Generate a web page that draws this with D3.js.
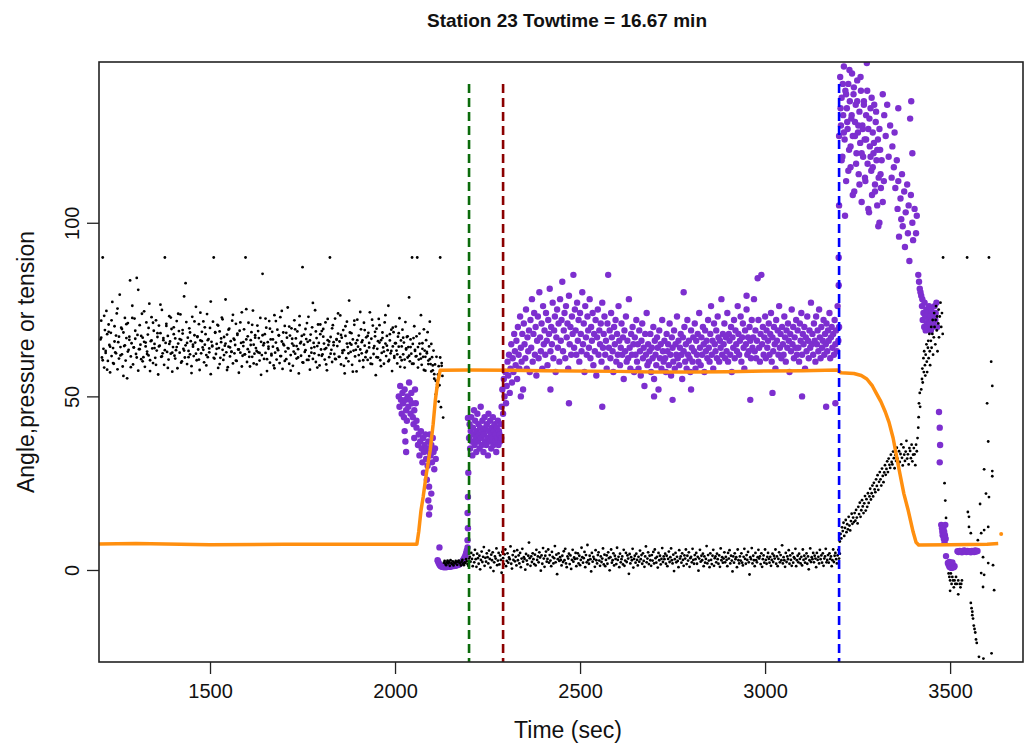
<!DOCTYPE html>
<html><head><meta charset="utf-8">
<script src="https://cdn.jsdelivr.net/npm/d3@7"></script>
<style>body{margin:0;background:#fff}svg{display:block;font-family:"Liberation Sans",Arial,sans-serif}</style>
</head><body><svg id="c" width="1025" height="743"></svg>
<script>
// ---------- DATA ----------
const titleText = "Station 23 Towtime = 16.67 min";
const xLabel = "Time (sec)";
const yLabel = "Angle,pressure or tension";
const xTicks = [1500, 2000, 2500, 3000, 3500];
const yTicks = [0, 50, 100];
const markerTimes = [2200, 2292, 3200];
const markerTop = 140;

// Black series (tension) – regular sampling segments: start time, step (sec), values
const blackAStart = 1204, blackAStep = 2;
const blackA = [
66.4,71.8,61.2,90,63.7,58.3,69.1,62.5,74.6,67.9,60.2,70.7,64.8,56.9,68.3,61.6,77.2,63.9,59.4,70.2,
62.7,67.5,73.9,57.8,65.6,60.9,79.3,64.2,69.8,62.1,58.6,68.4,64.5,72.6,60.3,66.8,55.2,71.1,63.4,67.2,
83.4,61.5,65.3,76.1,59.2,64.1,72.4,66.6,62.2,84.1,67.7,57.4,63.6,70.5,64.9,60.7,73.8,66.9,61.3,65.7,
58.5,64.4,71.3,62.9,67.8,61.8,76.7,60.4,65.9,72.8,63.8,59.6,68.9,65.1,61.1,71.9,63.2,67.1,56.3,70.4,
64.6,68.2,61.4,74.9,62.4,66.2,59.1,90,65.4,70.9,62.8,67.4,60.6,73.1,65.8,62.3,69.4,57.1,64.2,69.9,
61.7,66.7,63.3,71.7,58.1,65.2,68.8,62.6,73.6,66.3,60.1,68.1,63.7,78.8,61.2,64.7,71.4,59.3,66.9,63.1,
69.6,62.1,65.9,58.7,72.9,64.3,61.6,67.6,65.5,75.8,60.4,67.3,63.5,70.8,57.6,66.1,62.4,68.6,64.1,71.6,
59.8,64.9,67.9,61.9,73.7,61.3,66.5,63.8,69.7,56.4,65.7,64.4,71.5,90,60.9,68.3,62.2,65.1,70.6,58.2,
63.9,68.7,61.1,65.6,72.7,63.4,60.5,67.1,64.6,77.9,62.7,67.8,58.4,64.3,69.5,61.5,65.9,62.9,71.8,59.5,
66.6,62.4,64.8,70.9,60.2,67.7,63.5,56.8,68.9,62.6,65.4,74.2,61.7,64.5,69.3,62.1,90,66.4,59.9,63.6,
71.2,62.8,58.6,66.2,68.5,61.4,74.7,64.9,62.3,67.6,63.9,59.2,70.4,62.7,66.8,60.3,72.6,65.7,61.9,85.3,
64.7,60.8,67.9,62.5,69.8,57.3,65.6,63.7,71.7,59.7,66.4,61.8,68.6,64.3,58.9,73.4,62.6,65.5,60.6,69.2,
63.3,67.6,59.6,72.8,61.6,65.8,57.9,68.4,64.7,70.3,62.9,60.7,66.9,75.6,63.8,59.4,67.5,61.9,69.6,65.2,
58.8,64.6,71.9,62.3,66.7,60.9,68.7,63.6,56.6,70.5,65.3,61.7,67.4,87.2,59.7,64.9,62.8,69.4,66.5,60.5,
65.7,72.9,61.6,57.7,67.8,63.9,69.9,60.8,65.4,62.4,74.8,59.9,66.8,64.5,70.7,61.9,58.9,67.9,63.5,68.8,
62.1,69.4,65.2,60.6,71.3,63.9,57.5,66.2,64.8,61.3,90,67.1,63.4,59.9,70.5,65.6,62.2,72.4,60.7,66.3,
64.5,68.1,61.4,65.8,73.3,59.2,66.9,62.5,69.1,63.3,56.6,67.4,61.0,71.5,64.2,60.1,77.6,65.3,62.8,68.2,
59.1,66.4,63.2,70.6,61.5,65.3,57.2,72.1,64.3,67.5,60.2,63.5,69.3,62.4,66.1,58.4,71.2,64.6,61.3,67.0,
63.1,60.5,68.3,65.4,74.2,61.1,66.6,59.3,70.4,62.2,64.5,67.3,56.1,69.5,63.7,61.2,72.3,65.5,60.4,66.2,
62.5,68.4,64.1,59.4,71.3,65.2,61.6,67.4,63.3,76.1,60.5,66.1,62.4,69.2,57.3,64.4,68.5,61.1,65.3,70.1,
63.2,59.5,67.2,64.3,72.5,61.3,66.1,60.4,69.2,62.1,65.5,58.3,71.4,63.5,67.1,61.2,64.2,78.5,60.1,66.4,
62.3,90,65.1,59.4,70.2,63.4,61.5,67.3,90,64.2,60.6,68.1,62.2,73.4,59.1,65.3,61.4,69.3,63.2,57.4,
66.2,62.4,68.5,60.3,64.4,71.5,59.3,65.1,61.3,57.5,63.2,56.4,59.2,54.5,61.4,52.6,56.3,48.5,53.2,90,
46.9,58.8,55.9,43.9];

const blackA2Start = 1206, blackA2Step = 4;
const blackA2 = [
66.9,60.4,73.2,63.1,57.7,68.6,64.3,71.9,59.6,65.8,62.4,75.3,67.2,61.8,69.4,55.9,64.7,70.8,62.9,66.3,
58.4,72.6,64.1,68.9,61.2,80.7,63.6,67.4,60.1,74.5,65.5,62.2,69.7,57.3,66.1,71.2,63.9,59.1,68.2,64.4,
76.4,61.5,66.8,63.3,70.3,58.2,65.1,72.7,62.6,67.9,60.9,64.2,73.8,66.5,59.7,69.1,63.2,82.6,65.4,61.3,
68.4,56.7,64.9,71.6,62.3,67.1,60.6,74.1,65.9,63.4,69.9,58.9,66.2,62.7,77.3,64.6,61.1,68.5,63.7,70.4,
59.3,66.7,72.2,61.9,65.2,57.6,69.2,64.1,62.8,73.5,66.3,60.3,68.1,63.5,71.3,58.6,65.6,62.1,75.1,67.3,
61.4,64.8,70.6,59.5,66.9,63.1,68.8,62.5,56.2,67.6,65.3,72.4,60.7,64.3,69.5,62.2,66.4,58.1,71.7,63.8,
67.5,61.6,74.6,65.1,60.2,68.3,63.9,70.1,57.4,66.6,62.9,69.3,64.5,61.2,73.1,65.7,59.8,67.8,63.3,71.1,
60.5,66.1,62.6,76.9,64.2,68.7,58.3,65.4,70.7,61.7,67.2,63.6,59.2,72.3,65.8,62.3,69.6,64.7,60.8,66.5,
73.9,61.4,67.7,63.2,58.8,70.2,65.2,62.4,68.4,64.9,57.1,71.8,63.4,66.2,61.9,74.3,65.6,60.4,69.1,62.7,
67.4,64.1,59.4,72.1,63.9,68.6,61.3,65.9,70.5,58.7,66.8,62.9,73.4,64.6,60.1,67.9,63.1,69.8,61.6,65.3,
62.1,68.2,58.5,64.4,66.9,60.6,63.8,67.3,61.7,64.2,59.4,66.8,63.1,61.6,58.3,65.2,60.9,63.7,57.6,61.4,
62.8,59.3,60.7,57.2,58.9,55.1,50.6,53.4,58.7,61.2,59.6];

const blackBStart = 2132, blackBStep = 2;
const blackB = [
2.1,2.6,1.8,1.4,2.2,2.7,1.9,2.3,1.2,2.8,2.0,1.7,2.5,1.3,2.1,1.9,2.6,2.2,1.5,2.4,
2.7,2.1,1.9,1.3,2.4,2.9,1.8,1.4,2.2,2.0,3.1,2.5,1.7,1.2,3.3,3.8,2.4,4.9,3.2,1.1,
4.3,2.2,5.8,3.1,0.9,4.7,3.4,1.8,4.1,0.2,2.9,5.3,2.3,3.8,6.6,1.2,3.5,2.4,4.8,3.7,
1.9,5.6,3.2,0.7,4.4,2.8,5.1,-0.3,2.2,3.9,3.3,6.2,1.4,2.7,4.9,1.6,4.2,2.9,-0.8,5.2,
3.4,1.7,4.5,5.9,1.1,2.6,4.8,2.1,3.6,3.1,6.8,1.8,0.4,4.3,2.9,5.4,2.5,3.8,1.3,5.7,
2.8,4.2,1.9,4.9,0.8,3.3,6.1,2.4,3.7,3.2,0.1,4.6,2.7,1.6,4.1,7.9,3.4,1.2,3.9,2.3,
4.8,3.1,1.7,4.4,1.3,5.8,2.9,3.9,2.2,5.1,3.6,-0.2,4.2,1.8,6.3,3.3,0.9,4.1,5.3,2.4,
3.2,5.9,2.1,4.3,2.7,1.1,5.2,3.8,1.9,3.4,6.9,2.2,4.4,-1.2,3.1,4.8,2.6,3.7,2.9,1.3,
4.1,2.3,5.4,2.8,6.1,1.9,0.8,3.9,3.3,4.7,1.7,4.2,0.3,2.9,5.8,2.4,3.6,3.2,4.9,1.1,
3.3,4.8,1.9,4.1,1.4,2.9,6.4,3.7,2.1,3.4,5.2,0.8,4.3,2.2,7.2,2.8,1.8,4.1,3.1,-0.4,
4.9,2.4,3.8,3.2,0.9,5.7,2.8,1.9,4.3,5.1,2.7,1.2,3.9,2.3,3.3,6.2,1.6,4.4,1.1,2.9,
4.2,1.8,5.1,3.4,-0.1,3.7,5.9,2.1,2.8,4.8,1.3,4.1,3.2,1.7,6.4,2.9,3.8,0.8,4.7,2.2,
3.1,3.9,1.6,5.8,1.2,2.7,4.9,2.3,4.2,3.3,-1.1,4.6,1.9,3.7,2.8,6.1,0.7,3.2,4.1,2.1,
4.7,2.9,1.3,3.8,2.4,5.6,3.1,4.3,1.8,4.8,2.6,0.9,3.9,6.8,2.2,3.3,5.1,1.7,4.1,2.8,
1.2,4.3,2.7,5.2,1.9,5.9,3.4,2.1,3.8,0.7,4.9,2.8,4.1,1.6,3.2,6.3,2.3,3.9,3.1,4.7,
1.8,4.1,1.1,3.2,5.3,2.3,3.7,6.2,2.8,1.9,4.4,-0.3,3.1,4.9,2.2,3.8,2.6,0.8,5.7,3.3,
3.9,2.1,4.8,2.9,1.2,4.2,3.3,5.9,1.7,4.1,2.7,5.1,0.9,3.4,3.8,2.2,6.1,2.9,1.8,4.3,
3.1,4.9,1.8,3.8,-0.2,3.3,5.8,2.4,4.1,2.8,4.7,1.1,3.9,2.1,3.2,6.9,1.9,4.3,2.7,0.8,
4.8,2.9,1.7,4.1,5.8,1.2,3.4,3.9,2.2,4.7,3.1,1.8,4.2,0.9,6.2,2.8,3.7,2.1,3.3,5.1,
2.2,3.8,2.9,1.1,4.9,3.3,5.7,1.9,4.1,2.7,-0.4,3.9,2.1,4.8,3.1,3.7,0.8,5.9,2.8,1.9,
3.9,2.7,4.8,2.1,1.3,3.8,6.1,3.2,1.8,4.3,2.9,5.2,2.2,-1.3,3.7,3.1,6.3,1.9,4.1,2.8,
1.1,4.9,2.8,2.2,3.7,5.8,3.3,3.9,1.7,4.8,0.9,3.1,4.2,2.1,5.9,2.9,1.8,3.8,4.9,3.2,
2.1,3.8,1.2,2.9,4.7,2.3,4.1,3.3,5.9,1.8,3.9,1.1,3.2,5.1,2.2,4.3,2.8,7.1,1.9,3.7,
2.8,0.9,4.9,2.3,3.9,3.1,5.7,1.8,4.2,2.9,1.2,4.8,2.1,3.7,3.3,6.1,1.1,2.8,4.1,2.2,
4.7,3.2,1.9,3.8,1.3,5.9,2.9,4.1,2.1,3.3,4.8,1.8,3.9,0.2,2.8,6.2,2.3,3.7,3.1,4.9,
2.2,4.1,3.3,0.8,4.9,2.9,3.8,1.9,5.8,3.1,4.2,2.1,4.8,1.2,3.3,3.9,6.1,2.2,2.9,4.3,
2.1,4.8,3.2,3.9,1.1,2.8,5.9,2.3,4.1,4.9,3.1,1.9,4.2,5.8,3.3,4.7];

const blackCStart = 3202, blackCStep = 2;
const blackC = [
8.2,10.4,9.1,12.3,11.2,13.6,9.8,12.1,14.4,10.9,13.2,11.7,15.3,12.8,11.4,14.1,16.2,13.3,15.1,13.8,
16.4,14.2,17.3,15.1,13.4,18.2,16.1,19.4,15.3,17.2,20.1,18.3,16.4,19.2,21.3,17.1,20.4,18.2,22.1,19.3,
21.2,23.4,20.3,22.1,24.3,21.2,25.1,23.2,22.4,26.1,24.2,27.3,23.1,25.4,28.2,26.1,24.3,29.2,27.1,25.3,
28.1,30.2,27.4,29.1,31.3,28.2,32.1,30.3,29.4,33.2,31.1,30.4,34.1,32.2,29.3,33.1,31.4,35.2,32.1,30.3,
34.2,31.1,33.4,36.2,32.3,30.1,35.3,33.2,31.4,34.1,37.2,32.1,33.3,30.4,35.1,34.3,32.2,36.1,31.3,33.2,
35.1,33.3,30.2,36.1,34.2];

const blackDT = [3412,3414,3415,3416,3418,3419,
3422,3424,3425,3426,3428,3429,3430,3432,3433,3434,3436,3437,3438,3440,3441,3442,3444,3445,3446,3448,3449,3450,3452,3453,3454,3456,3457,3458,3460,3461,3462,3464,3465,3466,3468,3469,3470,3472,3474,3476,3478,3480,
3481,3546,3605, 3485,3487,3489,
3496,3498,3500,3502,3504,3506,3508,3510,3512,3514,3516,3518,3522,3526,3528,3530,3532,3500,3522,
3548,3551,3551,3556,3575,3584,3592,3603,
3589,3603,3616,3584,3592,3589,3619,
3556,3558,3560,3562,3564,3566,3568,3570,3572,3560,
3578,3590,3612,
3611,3614,3600,3603,3592,3614,3614,3597,3581,3605];
const blackDV = [38,41,44,48,51,47,
52,55,58,54,61,57,63,59,56,62,65,60,57,64,66,61,68,63,59,66,70,64,68,72,62,67,74,70,65,72,76,69,73,63,71,75,67,73,77,70,74,68,
90,90,90, 25,20,15,
-1,-2,-3,-1,-4,-2,-3,-5,-3,-4,-2,-4,-3,-4,-5,-4,-3,-6,-7,
16.7,15.3,12.4,10.6,8.6,10.6,11.5,12.4,
3.7,2,1.4,-0.9,-1.4,-4.9,-5.8,
-9.5,-11,-13,-14,-16,-17,-18,-20,-21,-12,
-25,-25.5,-24,
60,53,48,37,29,28.5,27,22,19,21];

// Purple series (angle)
const purpleAT = [2010,2012,2014,2016,2018,2020,2022,2024,2026,2028,2030,2032,2034,2036,2038,2040,2042,2044,2046,2048,2050,2052,2054,2056,2058];
const purpleAV = [50,47,53,49,45,51,48,44,52,49,46,43,50,47,54,49,45,51,48,44,42,46,52,48,43];

const purpleBT = [2026,2028,2030,2052,2058,2062,2064,2066,2068,2070,2072,2074,2076,2078,2080,2082,2084,2086,2088,2090,2092,2094,2096,2098,2100,2102,2104,2106,2108,2110,
2078,2086,2092,2098,2090,2094,2092,2120,2115,
2196,2197,2196,2197,2198,2197];
const purpleBV = [40,37,34,38,41,36,39,33,37,40,35,31,38,34,36,39,32,35,30,37,34,39,33,36,31,38,34,29,35,32,
28,26,24,22,20,18,16,6.5,2.8,
8.6,12,16.4,21,28,43.8];

const purpleCurveStart = 2116, purpleCurveStep = 2;
const purpleCurve = [2.5,2,1.6,1.3,1.1,1,0.9,0.9,0.8,0.9,1,0.8,0.9,1,1.1,1,0.9,1,1.1,1.2,1.1,1.2,1.3,1.2,1.4,1.3,1.5,1.6,1.5,1.7,1.9,2,2.2,2.5,2.8,3.2,3.6,4.1,4.8,5.6,6.5];

const purpleDStart = 2200, purpleDStep = 1.5;
const purpleD = [38,42,35,40,44,37,33,41,39,46,36,43,38,34,40,45,37,42,39,35,41,47,38,36,43,40,34,39,44,37,41,36,42,38,33,45,40,37,43,39,35,41,38,44,36,40,42,37,39,34,41,38,43,36,40,39,37,42,38];

const purpleEStart = 2288, purpleEStep = 2;
const purpleE = [
47,52,45,55,50,57,48,53,60,56,62,51,58,65,54,61,57,68,63,59,
66,55,70,62,58,73,64,60,68,52,71,65,61,75,58,67,63,69,57,72,
64,78,60,68,74,62,70,56,66,73,61,80,67,63,71,58,76,65,69,62,
74,66,59,72,68,81,63,70,65,77,61,69,73,57,67,75,64,71,60,78,
66,72,83,63,69,74,61,76,67,71,58,79,65,70,62,73,68,85,64,75,
69,62,77,66,72,60,74,68,63,80,65,71,57,76,67,62,73,69,64,78,
61,70,66,74,59,68,63,72,56,67,75,62,69,65,71,60,77,64,68,73,
62,66,58,71,85,64,69,61,74,67,63,57,70,65,72,60,68,62,76,66,
59,64,71,62,67,55,69,63,73,60,66,61,78,64,58,68,62,70,65,57,
67,62,72,60,65,58,69,63,56,66,71,61,64,53,68,62,74,59,65,60,
63,68,57,64,61,70,55,66,62,59,67,64,52,69,61,65,58,72,63,60,
66,61,57,68,63,65,59,71,62,56,67,64,60,69,58,65,62,73,61,66,
59,64,68,62,55,67,63,70,60,65,58,72,62,66,61,57,69,64,60,67,
63,71,58,66,62,68,60,74,64,59,67,62,70,65,57,69,63,66,61,72,
64,60,68,76,62,66,58,71,65,63,69,61,73,67,60,66,64,78,62,68,
65,71,61,67,63,74,60,68,66,62,70,57,67,64,72,61,69,65,63,76,
68,62,66,73,60,67,71,64,58,69,65,75,62,67,63,70,66,61,72,64,
67,78,63,69,61,66,84,72,64,60,68,85,65,70,62,67,73,61,69,64,
66,71,62,68,74,60,67,63,70,65,58,72,66,69,62,76,64,68,61,70,
65,62,73,67,60,69,64,71,66,57,68,63,75,65,70,61,67,64,72,62,
69,64,60,71,66,74,62,68,65,70,58,67,63,73,66,61,69,64,77,65,
68,62,71,66,60,73,65,69,63,75,67,61,70,64,66,72,62,68,65,71,
63,69,66,74,61,67,70,64,68,62,72,65,69,63,76,66,70];

const purpleExtraT = [2340,2420,2470,2560,2700,2750,2800,2960,3020,3100,3190,2780,2950,3165,3200,3200,3199,3199];
const purpleExtraV = [50,52,48,47,50,49,52,49,51,50,48,80,79,47,125,105,90,82];

const purpleF1Start = 3203, purpleF1Step = 2;
const purpleF1 = [142,128,136,119,131,145,124,138,112,133,127,140,121,135,116,130,143,125,137,109,
129,134,120,141,126,114,132,123,138,106,128,119,135,124,112,131,146,117,127,103,
122,133,115,108,126,120,134,111,129,118,105,124,113,100,121,110];
const purpleF2Start = 3204, purpleF2Step = 3;
const purpleF2 = [133,118,140,126,102,137,129,115,144,122,131,108,139,125,117,135,128,111,142,120,
127,134,113,124,138,104,130,119,136,116,123,109,132,121,99,127,114,118,106,112];

const purpleGT = [3318,3322,3326,3330,3334,3338,3342,3344,3348,3350,3352,3356,3358,3360,3362,3366,3368,3370,3372,3376,3378,3380,3384,3386,3388,3390,3394,3398,3400,3404,3408,3410,3414,3416,3418,3420,3422,3425,3360,3395,3392,3398,
3424,3426,3428,3430,3431,3433,3434,3436,3437,3439,3440,3442,3443,3445,3446,3448,3449,3451,3452,3454,3455,3457,3458,3460,3461,3463,3465,
3470,3472,3473,3472];
const purpleGV = [137,131,125,134,119,128,113,122,116,126,110,118,104,112,96,107,101,114,99,109,93,103,111,97,105,89,108,100,95,104,97,102,85,83,81,80,79,78,133,135,130,120,
76,72,74,70,77,73,69,75,71,74,70,72,76,71,73,69,75,72,70,74,71,73,76,72,74,77,70,
45.5,41,36,31];

const purpleHT = [3476,3478,3479,3480,3482,3483,3484,3486,3487,3488,3485,3489,
3494,3496,3498,3500,3502,3504,3506,3508,3510,3512,3498,3502,3506,
3520,3523,3526,3529,3532,3535,3538,3541,3544,3547,3550,3553,3556,3559,3562,3565,3568,3571,3574];
const purpleHV = [13,12,11,10,12,9,11,10,13,9,8,4,
2,1.5,1,0.8,1.2,0.6,1,1.4,0.8,1.1,2.3,2,2.2,
5.4,5.2,5.5,5.3,5.1,5.4,5.6,5.3,5.2,5.5,5.4,5.3,5.1,5.5,5.4,5.2,5.6,5.3,5.5];

// Orange series (pressure)
const orangeT = [1200,1300,1500,1700,1900,2059,2064,2070,2076,2085,2095,2103,2109,2115,2122,2200,2400,2600,2700,2800,2900,3000,3100,3195,3205,3240,3260,3275,3290,3300,3313,3325,3335,3346,3362,3375,3386,3400,3408,3415,3500,3600,3630];
const orangeV = [7.5,7.6,7.3,7.4,7.4,7.4,11,17,21,28,34.5,42,49,54,57.5,57.6,57.4,57.2,57,57,57.1,57.3,57.4,57.6,56.8,56.6,56,55,53,51,48.5,45.5,42.5,38,29,22,17.5,11,8,7.2,7.3,7.4,7.6];
const orangeLastT = [3638];
const orangeLastV = [10.4];

// ---------- STYLE ----------
const colBlack = "#000", colPurple = "#7d2fcf", colOrange = "#ff8f0f";
const markerColors = ["#0b6b0b", "#8b0000", "#0000ff"];

// ---------- CHART ----------
const svg = d3.select("#c");
const L = 99, R = 1023, T = 62, B = 662;
const x = d3.scaleLinear().domain([1200, 3697]).range([L, R]);
const y = d3.scaleLinear().domain([-26.5, 146.3]).range([B, T]);

const seq = (start, step, vals) => vals.map((v, i) => ({t: start + i * step, v}));
const pairs = (ts, vs) => ts.slice(0, Math.min(ts.length, vs.length)).map((t, i) => ({t, v: vs[i]}));

svg.append("defs").append("clipPath").attr("id", "clip")
  .append("rect").attr("x", L).attr("y", T).attr("width", R - L).attr("height", B - T);
const plot = svg.append("g").attr("clip-path", "url(#clip)");

const purplePts = [].concat(
  pairs(purpleAT, purpleAV), pairs(purpleBT, purpleBV),
  seq(purpleCurveStart, purpleCurveStep, purpleCurve),
  seq(purpleDStart, purpleDStep, purpleD),
  seq(purpleEStart, purpleEStep, purpleE),
  pairs(purpleExtraT, purpleExtraV),
  seq(purpleF1Start, purpleF1Step, purpleF1),
  seq(purpleF2Start, purpleF2Step, purpleF2),
  pairs(purpleGT, purpleGV), pairs(purpleHT, purpleHV));
const blackPts = [].concat(
  seq(blackAStart, blackAStep, blackA),
  seq(blackA2Start, blackA2Step, blackA2),
  seq(blackBStart, blackBStep, blackB),
  seq(blackCStart, blackCStep, blackC),
  pairs(blackDT, blackDV));

plot.append("g").selectAll("circle").data(purplePts).join("circle")
  .attr("cx", d => x(d.t)).attr("cy", d => y(d.v)).attr("r", 3.2).attr("fill", colPurple);
plot.append("g").selectAll("circle").data(blackPts).join("circle")
  .attr("cx", d => x(d.t)).attr("cy", d => y(d.v)).attr("r", 1.4).attr("fill", colBlack);

const orangePts = pairs(orangeT, orangeV);
plot.append("path").datum(orangePts)
  .attr("d", d3.line().x(d => x(d.t)).y(d => y(d.v)))
  .attr("fill", "none").attr("stroke", colOrange).attr("stroke-width", 3.5).attr("stroke-linejoin", "round");
plot.append("g").selectAll("circle").data(pairs(orangeLastT, orangeLastV)).join("circle")
  .attr("cx", d => x(d.t)).attr("cy", d => y(d.v)).attr("r", 2).attr("fill", colOrange);

markerTimes.forEach((m, i) => {
  plot.append("line").attr("x1", x(m)).attr("x2", x(m)).attr("y1", y(markerTop)).attr("y2", B)
    .attr("stroke", markerColors[i]).attr("stroke-width", 2.6).attr("stroke-dasharray", "9,5");
});

// box
svg.append("rect").attr("x", L).attr("y", T).attr("width", R - L).attr("height", B - T)
  .attr("fill", "none").attr("stroke", "#222").attr("stroke-width", 1.6);

// axes
const xAxis = svg.append("g").attr("transform", `translate(0,${B})`)
  .call(d3.axisBottom(x).tickValues(xTicks).tickSize(12).tickPadding(10).tickFormat(d3.format("d")));
xAxis.select(".domain").remove();
xAxis.selectAll("line").attr("stroke", "#222").attr("stroke-width", 1.3);
xAxis.selectAll("text").attr("font-size", 20).attr("fill", "#111").attr("font-family", "Liberation Sans, Arial, sans-serif");

const yAxis = svg.append("g").attr("transform", `translate(${L},0)`)
  .call(d3.axisLeft(y).tickValues(yTicks).tickSize(12).tickFormat(d3.format("d")));
yAxis.select(".domain").remove();
yAxis.selectAll("line").attr("stroke", "#222").attr("stroke-width", 1.3);
yAxis.selectAll("text").attr("x", null).attr("dy", null)
  .attr("transform", "translate(-20,0) rotate(-90)").attr("text-anchor", "middle")
  .attr("font-size", 20).attr("fill", "#111").attr("font-family", "Liberation Sans, Arial, sans-serif");

svg.append("text").attr("x", 567).attr("y", 27).attr("text-anchor", "middle")
  .attr("font-weight", "bold").attr("font-size", 19).attr("fill", "#111").text(titleText);
svg.append("text").attr("x", 568).attr("y", 738).attr("text-anchor", "middle")
  .attr("font-size", 23).attr("fill", "#111").text(xLabel);
svg.append("text").attr("transform", `translate(34,${(T + B) / 2}) rotate(-90)`).attr("text-anchor", "middle")
  .attr("font-size", 23).attr("fill", "#111").text(yLabel);
</script></body></html>
